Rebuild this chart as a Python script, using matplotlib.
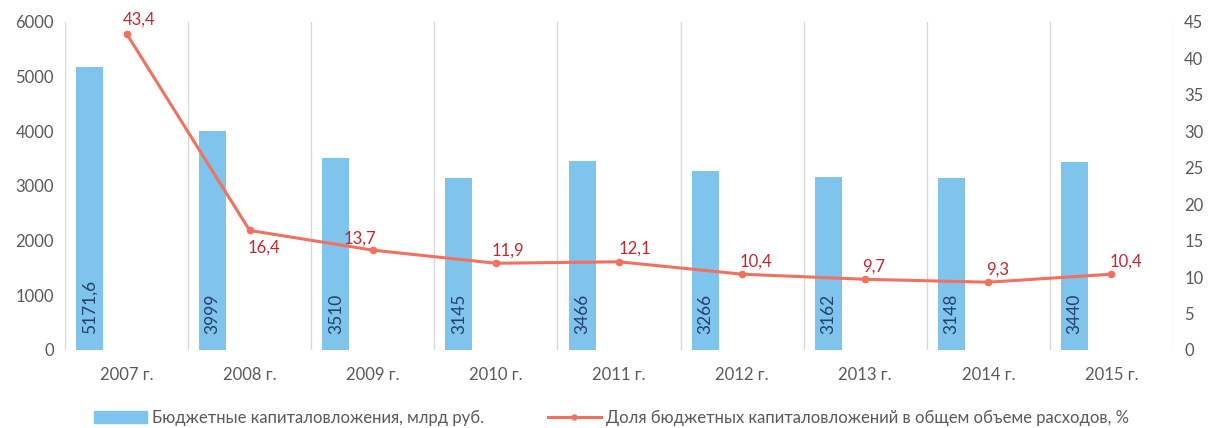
import matplotlib
matplotlib.use("Agg")
import matplotlib.pyplot as plt
from matplotlib.patches import Patch
from matplotlib.lines import Line2D

years = ["2007 г.", "2008 г.", "2009 г.", "2010 г.", "2011 г.", "2012 г.", "2013 г.", "2014 г.", "2015 г."]
investments = [5171.6, 3999, 3510, 3145, 3466, 3266, 3162, 3148, 3440]
invest_labels = ["5171,6", "3999", "3510", "3145", "3466", "3266", "3162", "3148", "3440"]
share = [43.4, 16.4, 13.7, 11.9, 12.1, 10.4, 9.7, 9.3, 10.4]
share_labels = ["43,4", "16,4", "13,7", "11,9", "12,1", "10,4", "9,7", "9,3", "10,4"]
left_ticks = [0, 1000, 2000, 3000, 4000, 5000, 6000]
right_ticks = [0, 5, 10, 15, 20, 25, 30, 35, 40, 45]

bar_name = "Бюджетные капиталовложения, млрд руб."
line_name = "Доля бюджетных капиталовложений в общем объеме расходов, %"

# style
plt.rcParams['font.family'] = ['Lato', 'DejaVu Sans']
BAR_C = "#7FC4EC"
LINE_C = "#F2705F"
LBL_RED = "#C1272D"
LBL_BLUE = "#23406A"
GREY = "#595959"
GRID = "#D9D9D9"
# label offsets (pixels): (dx, dy, ha, va)
lbl_off = [(-4, 6, 'left', 'bottom'), (-2, -9, 'left', 'top'), (3, 4, 'right', 'bottom'),
           (-4, 5, 'left', 'bottom'), (0, 5, 'left', 'bottom'), (-3, 5, 'left', 'bottom'),
           (-3, 5, 'left', 'bottom'), (-2, 5, 'left', 'bottom'), (-2, 5, 'left', 'bottom')]

fig = plt.figure(figsize=(12.11, 4.28), dpi=100)
ax = fig.add_axes([65/1211, 78/428, (1173-65)/1211, (350-22)/428])
x = list(range(len(years)))
bx = [i - 0.3 for i in x]
bars = ax.bar(bx, investments, width=0.22, color=BAR_C, zorder=2)
ax.set_xlim(-0.5, len(years) - 0.5)
ax.set_ylim(0, 6000)
ax.set_yticks(left_ticks)
ax.set_xticks(x)
ax.set_xticklabels(years)
for s in ax.spines.values():
    s.set_visible(False)
ax.tick_params(axis='both', length=0, colors=GREY, labelsize=12)
ax.tick_params(axis='x', pad=12)
ax.tick_params(axis='y', pad=8)
for i in range(len(years) + 1):
    ax.axvline(i - 0.5, color=GRID, lw=1.0, zorder=1)
for xi, lab in zip(bx, invest_labels):
    ax.text(xi, 290, lab, rotation=90, ha='center', va='bottom', color=LBL_BLUE, fontsize=12.5, zorder=3)

ax2 = ax.twinx()
ax2.set_ylim(0, 45)
ax2.set_yticks(right_ticks)
for s in ax2.spines.values():
    s.set_visible(False)
ax2.tick_params(axis='y', length=0, colors=GREY, labelsize=12, pad=8)
ax2.plot(x, share, color=LINE_C, lw=2.2, marker='o', ms=4.5, zorder=4)
for xi, v, lab, (dx, dy, ha, va) in zip(x, share, share_labels, lbl_off):
    ax2.annotate(lab, (xi, v), xytext=(dx * 0.72, dy * 0.72), textcoords='offset points',
                 ha=ha, va=va, color=LBL_RED, fontsize=12)

handles = [Patch(color=BAR_C), Line2D([], [], color=LINE_C, lw=2.2, marker='o', ms=3.5)]
fig.legend(handles, [bar_name, line_name], loc='center', bbox_to_anchor=(0.505, 10/428),
           ncol=2, frameon=False, fontsize=12, labelcolor=GREY, columnspacing=3.8,
           handlelength=3.2, handletextpad=0.3)

fig.savefig("out.png", dpi=100)
